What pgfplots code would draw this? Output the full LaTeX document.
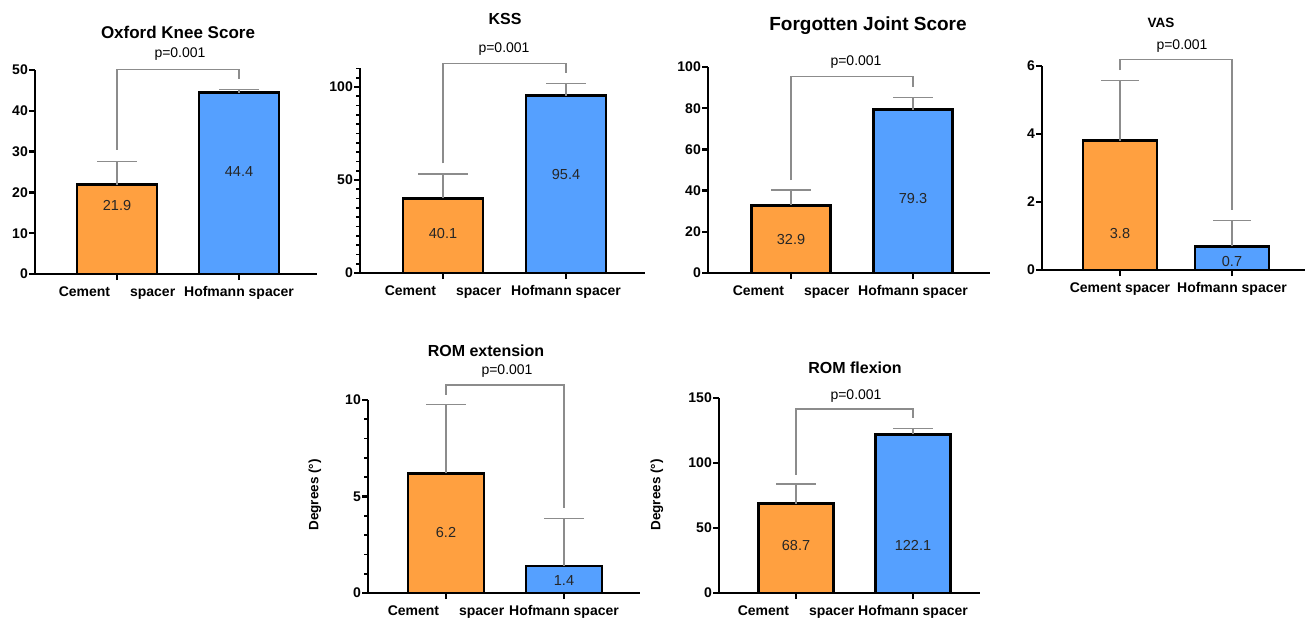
\documentclass[border=0pt]{standalone}
\usepackage{pgfplots}
\pgfplotsset{compat=1.18}
\usepackage{fontspec}
\setmainfont{Liberation Sans}
\definecolor{corange}{RGB}{255,160,64}
\definecolor{cblue}{RGB}{85,160,255}
\definecolor{egray}{RGB}{140,140,140}

\pgfplotsset{
 panel/.style={
  scale only axis, clip=false, axis lines=left,
  axis line style={-, line width=2.7pt, black},
  enlargelimits=false, ymin=0,
  /pgf/number format/assume math mode=true,
  tick align=outside, major tick length=6pt, minor tick length=4pt,
  tick style={black, line width=2.4pt},
  minor tick style={line width=1.7pt},
  yticklabel style={font=\fontsize{14}{16}\selectfont\bfseries, inner sep=1pt},
  xticklabel style={font=\fontsize{14}{16}\selectfont\bfseries, yshift=-3pt},
 },
 bars/.style={ybar, bar shift=0pt, draw=black, line width=2.8pt},
 br/.style={egray, line width=1.2pt, mark=none},
}
\tikzset{
 pfont/.style={font=\fontsize{14}{16}\selectfont},
 vfont/.style={font=\fontsize{14.5}{16}\selectfont, text=black!85},
 tfont/.style={font=\fontsize{#1}{#1}\selectfont\bfseries},
}

\begin{document}
\begin{tikzpicture}
\useasboundingbox (0pt,0pt) rectangle (1314pt,-618pt);

% Titles
\node[tfont=17] at (178pt,-32pt) {Oxford Knee Score};
\node[tfont=16] at (505pt,-19pt) {KSS};
\node[tfont=19] at (868pt,-26pt) {Forgotten Joint Score};
\node[tfont=13.5] at (1161pt,-23pt) {VAS};
\node[tfont=16] at (486pt,-351pt) {ROM extension};
\node[tfont=16] at (855pt,-368pt) {ROM flexion};
\node[tfont=13.5, rotate=90] at (315pt,-495pt) {Degrees (°)};
\node[tfont=13.5, rotate=90] at (657pt,-495pt) {Degrees (°)};

% Panel 1: Oxford Knee Score
\begin{axis}[panel, at={(35pt,-274pt)}, anchor=south west, width=282pt, height=204pt,
  xmin=35, xmax=317, ymax=50, ytick={0,10,...,50}, xtick={117,239}, bar width=80,
  xticklabels={Cement\hspace{20pt}spacer, Hofmann spacer}]
\addplot[fill=corange, bars, error bars/.cd, y dir=plus, y explicit,
  error bar style={egray, line width=1.3pt}, error mark options={rotate=90, egray, line width=1.3pt, mark size=20pt}]
  coordinates {(117,21.9) +- (0,5.6)};
\addplot[fill=cblue, bars, error bars/.cd, y dir=plus, y explicit,
  error bar style={egray, line width=1.3pt}, error mark options={rotate=90, egray, line width=1.3pt, mark size=20pt}]
  coordinates {(239,44.4) +- (0,0.9)};
\addplot[br] coordinates {(117,30.4) (117,50.2) (239,50.2) (239,47.8)};
\node[pfont, yshift=15pt] at (180,50.2) {p=0.001};
\node[vfont] at (117,16.7) {21.9};
\node[vfont] at (239,25) {44.4};
\end{axis}

% Panel 2: KSS
\begin{axis}[panel, at={(360pt,-273pt)}, anchor=south west, width=285pt, height=204.6pt,
  xmin=360, xmax=645, ymax=110, ytick={0,50,100}, minor ytick={5,10,...,110}, xtick={443,566}, bar width=80,
  xticklabels={Cement\hspace{20pt}spacer, Hofmann spacer}]
\addplot[fill=corange, bars, error bars/.cd, y dir=plus, y explicit,
  error bar style={egray, line width=1.3pt}, error mark options={rotate=90, egray, line width=1.3pt, mark size=25pt}]
  coordinates {(443,40.1) +- (0,13.1)};
\addplot[fill=cblue, bars, error bars/.cd, y dir=plus, y explicit,
  error bar style={egray, line width=1.3pt}, error mark options={rotate=90, egray, line width=1.3pt, mark size=20pt}]
  coordinates {(566,95.4) +- (0,6.6)};
\addplot[br] coordinates {(443,59) (443,112.7) (566,112.7) (566,107.4)};
\node[pfont, yshift=14pt] at (504,112.7) {p=0.001};
\node[vfont] at (443,21.5) {40.1};
\node[vfont] at (566,52.7) {95.4};
\end{axis}

% Panel 3: Forgotten Joint Score
\begin{axis}[panel, at={(708pt,-273pt)}, anchor=south west, width=282pt, height=206pt,
  xmin=708, xmax=990, ymax=100, ytick={0,20,...,100}, xtick={791,913}, bar width=79,
  xticklabels={Cement\hspace{20pt}spacer, Hofmann spacer}]
\addplot[fill=corange, bars, error bars/.cd, y dir=plus, y explicit,
  error bar style={egray, line width=1.3pt}, error mark options={rotate=90, egray, line width=1.3pt, mark size=20pt}]
  coordinates {(791,32.9) +- (0,7.4)};
\addplot[fill=cblue, bars, error bars/.cd, y dir=plus, y explicit,
  error bar style={egray, line width=1.3pt}, error mark options={rotate=90, egray, line width=1.3pt, mark size=20pt}]
  coordinates {(913,79.3) +- (0,5.8)};
\addplot[br] coordinates {(791,45.1) (791,95.3) (913,95.3) (913,90.1)};
\node[pfont, yshift=15pt] at (856,95.3) {p=0.001};
\node[vfont] at (791,16.5) {32.9};
\node[vfont] at (913,36.4) {79.3};
\end{axis}

% Panel 4: VAS
\begin{axis}[panel, at={(1042pt,-270pt)}, anchor=south west, width=263pt, height=204pt,
  xmin=1042, xmax=1305, ymax=6, ytick={0,2,4,6}, xtick={1120,1232}, bar width=74,
  xticklabels={Cement spacer, Hofmann spacer}]
\addplot[fill=corange, bars, error bars/.cd, y dir=plus, y explicit,
  error bar style={egray, line width=1.3pt}, error mark options={rotate=90, egray, line width=1.3pt, mark size=19pt}]
  coordinates {(1120,3.8) +- (0,1.77)};
\addplot[fill=cblue, bars, error bars/.cd, y dir=plus, y explicit,
  error bar style={egray, line width=1.3pt}, error mark options={rotate=90, egray, line width=1.3pt, mark size=19pt}]
  coordinates {(1232,0.7) +- (0,0.75)};
\addplot[br] coordinates {(1120,5.88) (1120,6.18) (1232,6.18) (1232,1.76)};
\node[pfont, yshift=13.5pt] at (1182,6.18) {p=0.001};
\node[vfont] at (1120,1.06) {3.8};
\node[vfont] at (1232,0.26) {0.7};
\end{axis}

% Panel 5: ROM extension
\begin{axis}[panel, at={(368pt,-593pt)}, anchor=south west, width=272pt, height=193pt,
  xmin=368, xmax=640, ymax=10, ytick={0,5,10}, minor ytick={1,...,9}, xtick={446,564}, bar width=76,
  xticklabels={Cement\hspace{20pt}spacer, Hofmann spacer}]
\addplot[fill=corange, bars, error bars/.cd, y dir=plus, y explicit,
  error bar style={egray, line width=1.3pt}, error mark options={rotate=90, egray, line width=1.3pt, mark size=20pt}]
  coordinates {(446,6.2) +- (0,3.58)};
\addplot[fill=cblue, bars, error bars/.cd, y dir=plus, y explicit,
  error bar style={egray, line width=1.3pt}, error mark options={rotate=90, egray, line width=1.3pt, mark size=20pt}]
  coordinates {(564,1.4) +- (0,2.47)};
\addplot[br] coordinates {(446,10.26) (446,10.78) (564,10.78) (564,4.39)};
\node[pfont, yshift=13.5pt] at (507,10.78) {p=0.001};
\node[vfont] at (446,3.16) {6.2};
\node[vfont] at (564,0.67) {1.4};
\end{axis}

% Panel 6: ROM flexion
\begin{axis}[panel, at={(719pt,-593pt)}, anchor=south west, width=261pt, height=195pt,
  xmin=719, xmax=980, ymax=150, ytick={0,50,100,150}, xtick={796,913}, bar width=75,
  xticklabels={Cement\hspace{20pt}spacer, Hofmann spacer}]
\addplot[fill=corange, bars, error bars/.cd, y dir=plus, y explicit,
  error bar style={egray, line width=1.3pt}, error mark options={rotate=90, egray, line width=1.3pt, mark size=20pt}]
  coordinates {(796,68.7) +- (0,15.1)};
\addplot[fill=cblue, bars, error bars/.cd, y dir=plus, y explicit,
  error bar style={egray, line width=1.3pt}, error mark options={rotate=90, egray, line width=1.3pt, mark size=20pt}]
  coordinates {(913,122.1) +- (0,4.3)};
\addplot[br] coordinates {(796,90.8) (796,141.5) (913,141.5) (913,134.4)};
\node[pfont, yshift=12.5pt] at (856,141.5) {p=0.001};
\node[vfont] at (796,36.9) {68.7};
\node[vfont] at (913,36.9) {122.1};
\end{axis}
\end{tikzpicture}
\end{document}
